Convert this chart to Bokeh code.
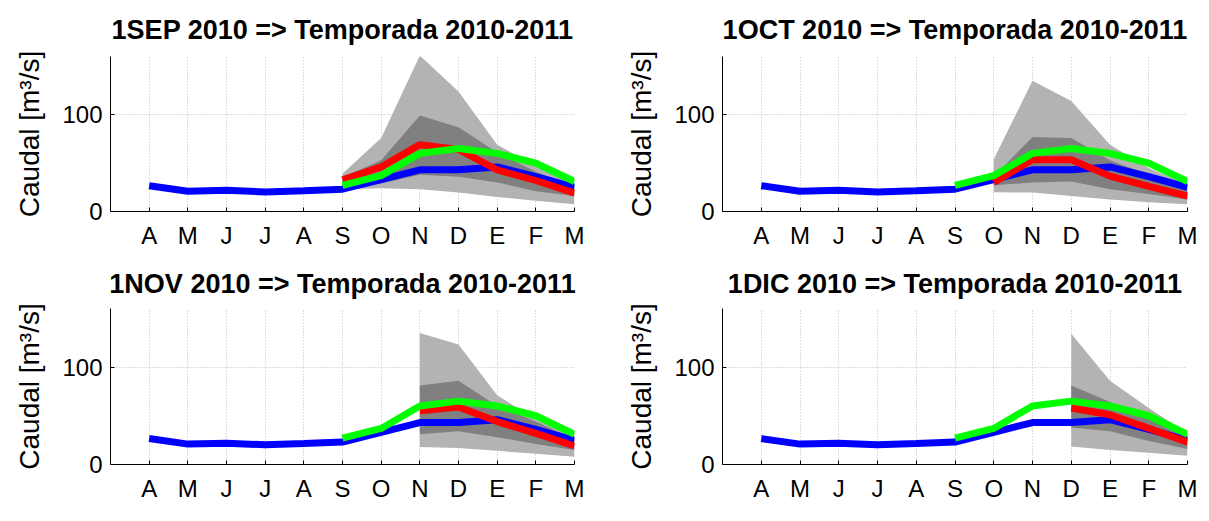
from bokeh.plotting import figure
from bokeh.layouts import gridplot
from bokeh.models import FixedTicker, Range1d
from bokeh.embed import file_html
from bokeh.resources import INLINE

# ---------------- data ----------------
months = ["A", "M", "J", "J", "A", "S", "O", "N", "D", "E", "F", "M"]
titles = ["1SEP 2010 => Temporada 2010-2011", "1OCT 2010 => Temporada 2010-2011",
          "1NOV 2010 => Temporada 2010-2011", "1DIC 2010 => Temporada 2010-2011"]
y_ticks = [0, 100]

# observed flow (blue), Apr..Mar
obs = [26.6, 20.9, 21.9, 20.2, 21.5, 23, 33, 43, 43, 46, 36, 25]
# climatology (green), Sep..Mar
clim_start = 5
clim = [27, 37, 60, 65, 60, 50, 31]

# forecast start index per panel (S=5, O=6, N=7, D=8)
starts = [5, 6, 7, 8]

red1 = [32.7, 46, 69, 64, 43, 32, 19]
outer_hi1 = [39, 76, 161, 124, 69, 47, 30]
dark_hi1 = [35, 53, 99, 87, 61, 41, 26]
dark_lo1 = [26, 29, 38, 36, 30, 21, 16]
outer_lo1 = [23, 24, 23, 19.5, 15, 11, 7.5]

red2 = [30, 53.5, 53.5, 36.5, 26, 16]
outer_hi2 = [54, 135, 114, 69, 45, 28]
dark_hi2 = [36, 77, 76, 53, 38, 23]
dark_lo2 = [27, 30, 31, 23, 18, 12.5]
outer_lo2 = [20, 19.5, 16, 12.5, 9.5, 7.5]

red3 = [55, 59, 44, 32, 19]
outer_hi3 = [135, 123, 71, 46, 29]
dark_hi3 = [81, 86, 60, 44, 26]
dark_lo3 = [31, 34, 28, 21, 15]
outer_lo3 = [18, 17, 14, 11, 8]

red4 = [58, 51, 37, 23]
outer_hi4 = [134, 86, 58, 32]
dark_hi4 = [81, 64, 48, 30]
dark_lo4 = [38, 34, 24, 16]
outer_lo4 = [18.5, 15, 12, 9]

reds = [red1, red2, red3, red4]
outer_his = [outer_hi1, outer_hi2, outer_hi3, outer_hi4]
dark_his = [dark_hi1, dark_hi2, dark_hi3, dark_hi4]
dark_los = [dark_lo1, dark_lo2, dark_lo3, dark_lo4]
outer_los = [outer_lo1, outer_lo2, outer_lo3, outer_lo4]

FONT = "Liberation Sans"


def make_panel(i, width, height, bl, br, bt, bb, title_standoff):
    p = figure(width=width, height=height, output_backend="svg", toolbar_location=None,
               x_range=Range1d(-1, 11), y_range=Range1d(0, 160),
               min_border_left=bl, min_border_right=br, min_border_top=bt, min_border_bottom=bb)
    p.outline_line_color = None
    p.background_fill_color = "white"
    p.border_fill_color = "white"

    p.title.text = titles[i]
    p.title.text_font = FONT
    p.title.text_font_size = "27px"
    p.title.text_font_style = "bold"
    p.title.align = "center"
    p.title.text_color = "black"
    p.title.standoff = title_standoff

    xs = list(range(len(months)))
    fx = xs[starts[i]:]
    p.varea(x=fx, y1=outer_los[i], y2=outer_his[i], fill_color="#b3b3b3")
    p.varea(x=fx, y1=dark_los[i], y2=dark_his[i], fill_color="#808080")

    p.line(xs, obs, line_color="#0000ff", line_width=7)
    p.line(fx, reds[i], line_color="#ff0000", line_width=7)
    p.line(xs[clim_start:], clim, line_color="#00ff00", line_width=7)

    p.xaxis.ticker = FixedTicker(ticks=xs)
    p.xaxis.major_label_overrides = {k: m for k, m in enumerate(months)}
    p.yaxis.ticker = FixedTicker(ticks=y_ticks)
    for ax in (p.xaxis, p.yaxis):
        ax.major_label_text_font = FONT
        ax.major_label_text_font_size = "24px"
        ax.major_label_text_color = "black"
        ax.axis_line_color = "black"
        ax.axis_line_width = 1
        ax.major_tick_in = 4
        ax.major_tick_out = 0
        ax.major_tick_line_color = "black"
        ax.minor_tick_line_color = None
    p.xaxis.major_label_standoff = 10
    p.yaxis.major_label_standoff = 8

    p.yaxis.axis_label = "Caudal [m³/s]"
    p.yaxis.axis_label_text_font = FONT
    p.yaxis.axis_label_text_font_size = "28px"
    p.yaxis.axis_label_text_font_style = "normal"
    p.yaxis.axis_label_text_color = "black"
    p.yaxis.axis_label_standoff = 14

    p.xgrid.ticker = FixedTicker(ticks=xs)
    p.ygrid.ticker = FixedTicker(ticks=y_ticks)
    for g in (p.xgrid, p.ygrid):
        g.grid_line_color = "#bdbdbd"
        g.grid_line_dash = "1 2"
        g.grid_line_width = 1
    return p


p1 = make_panel(0, 620, 256, 110, 46, 55, 45, 24)
p2 = make_panel(1, 581, 256, 102, 14, 55, 45, 24)
p3 = make_panel(2, 620, 249, 110, 46, 52, 41, 20)
p4 = make_panel(3, 581, 249, 102, 14, 52, 41, 20)

grid = gridplot([[p1, p2], [p3, p4]], toolbar_location=None)

open("out.html", "w").write(file_html(grid, INLINE))
